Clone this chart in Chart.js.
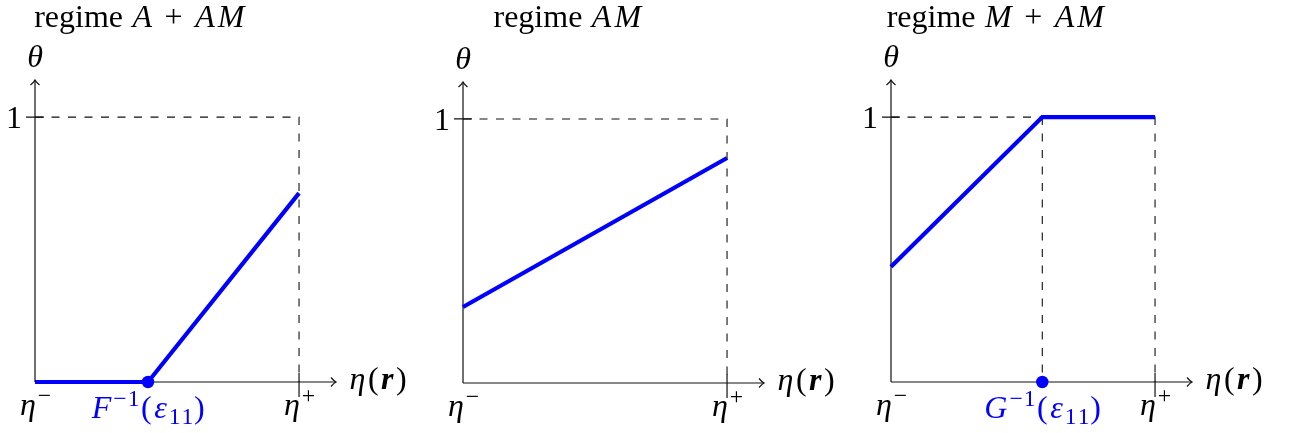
<!DOCTYPE html>
<html>
<head>
<meta charset="utf-8">
<script src="https://cdn.jsdelivr.net/npm/chart.js@4.4.0/dist/chart.umd.min.js"></script>
<style>
html, body { margin: 0; padding: 0; background: #fff; }
#wrap { position: relative; width: 1290px; height: 433px; overflow: hidden; }
.panel { position: absolute; top: 0; width: 430px; height: 433px; }
</style>
</head>
<body>
<div id="wrap">
  <div class="panel" style="left:0px"><canvas id="c0"></canvas></div>
  <div class="panel" style="left:430px"><canvas id="c1"></canvas></div>
  <div class="panel" style="left:860px"><canvas id="c2"></canvas></div>
</div>
<script>
// テキスト ($...$ は数式、^{} 上付き、_{} 下付き、\b{} 太字)
const titles = ['regime $A + AM$', 'regime $AM$', 'regime $M + AM$'];
const yAxisLabel = '\u03b8';
const xAxisLabel = '\u03b7(\\b{r})';
const yTickLabel = '1';
const xMinLabel = '\u03b7^{\u2212}';
const xMaxLabel = '\u03b7^{+}';
const breakLabels = ['F^{\u22121}(\u03b5_{11})', null, 'G^{\u22121}(\u03b5_{11})'];

// 各レジームの折れ線 (η, θ)
const etaA = [0, 0.428, 1];
const thetaA = [0, 0, 0.713];
const etaAM = [0, 1];
const thetaAM = [0.288, 0.852];
const etaM = [0, 0.573, 1];
const thetaM = [0.435, 1, 1];
const breakPoints = [0.428, null, 0.573];

// 軸の範囲 (矢印の先端まで)
const axisMax = 1.14;

const BLUE = '#0000ff';
const FONT = '"Liberation Serif", "Times New Roman", serif';
const SIZE = 32;

const panels = [
    { eta: etaA, theta: thetaA, pad: { left: 35, top: 80, right: 94, bottom: 51 } },
    { eta: etaAM, theta: thetaAM, pad: { left: 33, top: 82, right: 96, bottom: 50 } },
    { eta: etaM, theta: thetaM, pad: { left: 31, top: 80, right: 98, bottom: 51 } }
];

// 簡易な数式テキストの分解
function parseText(str, math) {
    const runs = [];
    const stack = [];
    let level = 0, bold = false;
    for (let i = 0; i < str.length; i++) {
        const c = str[i];
        if (c === '$') { math = !math; continue; }
        if ((c === '^' || c === '_') && str[i + 1] === '{') {
            stack.push({ level, bold });
            level = c === '^' ? 1 : -1;
            i++;
            continue;
        }
        if (c === '\\' && str[i + 1] === 'b' && str[i + 2] === '{') {
            stack.push({ level, bold });
            bold = true;
            i += 2;
            continue;
        }
        if (c === '}') {
            const s = stack.pop();
            level = s.level; bold = s.bold;
            continue;
        }
        const italic = math && /[A-Za-z\u0370-\u03ff]/.test(c);
        const last = runs[runs.length - 1];
        if (last && last.italic === italic && last.bold === bold && last.level === level && last.math === math) {
            last.text += c;
        } else {
            runs.push({ text: c, italic, bold, level, math });
        }
    }
    return runs;
}

function fontFor(r, size) {
    const s = r.level ? size * 0.74 : size;
    return (r.italic ? 'italic ' : '') + (r.bold ? 'bold ' : '') + s + 'px ' + FONT;
}

// 数式部分は字間を少し広げる (Computer Modern に近づける)
function spacingFor(r) {
    if (!r.math) return 0;
    if (r.level) return 1;
    return r.italic ? 3 : 2;
}

function drawText(ctx, str, x, y, align, color, math) {
    const runs = parseText(str, math);
    let total = 0;
    runs.forEach(r => {
        ctx.font = fontFor(r, SIZE);
        r.sp = spacingFor(r);
        r.w = ctx.measureText(r.text).width + r.sp * r.text.length;
        total += r.w;
    });
    let cx = align === 'center' ? x - total / 2 : align === 'right' ? x - total : x;
    ctx.fillStyle = color;
    ctx.textAlign = 'left';
    ctx.textBaseline = 'alphabetic';
    runs.forEach(r => {
        ctx.font = fontFor(r, SIZE);
        const dy = r.level === 1 ? -0.38 * SIZE : r.level === -1 ? 0.2 * SIZE : 0;
        let px = cx + r.sp / 2;
        for (const ch of r.text) {
            ctx.fillText(ch, px, y + dy);
            px += ctx.measureText(ch).width + r.sp;
        }
        cx += r.w;
    });
}

function arrowHead(ctx, tx, ty, dir) {
    ctx.beginPath();
    if (dir === 'right') {
        ctx.moveTo(tx - 5, ty - 4.5);
        ctx.quadraticCurveTo(tx - 2, ty - 1, tx, ty);
        ctx.quadraticCurveTo(tx - 2, ty + 1, tx - 5, ty + 4.5);
    } else {
        ctx.moveTo(tx - 4.5, ty + 5);
        ctx.quadraticCurveTo(tx - 1, ty + 2, tx, ty);
        ctx.quadraticCurveTo(tx + 1, ty + 2, tx + 4.5, ty + 5);
    }
    ctx.stroke();
}

const sketchPlugin = {
    id: 'sketch',
    beforeDatasetsDraw(chart, args, opts) {
        const { ctx } = chart;
        const x = chart.scales.x, y = chart.scales.y;
        const ox = x.getPixelForValue(0), oy = y.getPixelForValue(0);
        const xe = x.getPixelForValue(axisMax), ye = y.getPixelForValue(axisMax);
        const x1 = x.getPixelForValue(1), y1 = y.getPixelForValue(1);
        ctx.save();
        ctx.strokeStyle = '#111';
        ctx.lineWidth = 1.2;
        ctx.beginPath();
        ctx.moveTo(ox, oy); ctx.lineTo(xe, oy);
        ctx.moveTo(ox, oy); ctx.lineTo(ox, ye);
        ctx.moveTo(ox - 9, y1); ctx.lineTo(ox + 9, y1);
        ctx.moveTo(x1, oy - 9); ctx.lineTo(x1, oy + 15);
        ctx.stroke();
        arrowHead(ctx, xe, oy, 'right');
        arrowHead(ctx, ox, ye, 'up');
        ctx.restore();
    },
    afterDraw(chart, args, opts) {
        const { ctx } = chart;
        const i = opts.index;
        const x = chart.scales.x, y = chart.scales.y;
        const ox = x.getPixelForValue(0), oy = y.getPixelForValue(0);
        const xe = x.getPixelForValue(axisMax), ye = y.getPixelForValue(axisMax);
        const x1 = x.getPixelForValue(1), y1 = y.getPixelForValue(1);
        ctx.save();
        drawText(ctx, titles[i], (ox + x1) / 2 - 27, 27, 'center', '#000', false);
        drawText(ctx, yAxisLabel, ox, ye - 13, 'center', '#000', true);
        drawText(ctx, yTickLabel, ox - 12, y1 + 11, 'right', '#000', true);
        drawText(ctx, xAxisLabel, xe + 12, oy + 7, 'left', '#000', true);
        drawText(ctx, xMinLabel, ox, oy + 33, 'center', '#000', true);
        drawText(ctx, xMaxLabel, x1, oy + 33, 'center', '#000', true);
        if (breakLabels[i]) {
            drawText(ctx, breakLabels[i], x.getPixelForValue(breakPoints[i]), oy + 36, 'center', BLUE, true);
        }
        ctx.restore();
    }
};

panels.forEach((p, i) => {
    const curve = p.eta.map((v, k) => ({ x: v, y: p.theta[k] }));
    const bp = breakPoints[i];
    // θ=1 に達する折れ点からは破線を下ろす
    const k = bp === null ? -1 : p.eta.indexOf(bp);
    const drop = k >= 0 && p.theta[k] === 1 ? [{ x: bp, y: 1 }, { x: bp, y: 0 }] : [];

    new Chart(document.getElementById('c' + i), {
        type: 'line',
        data: {
            datasets: [
                {
                    data: bp === null ? [] : [{ x: bp, y: 0 }],
                    showLine: false,
                    pointRadius: 6.2,
                    pointBackgroundColor: BLUE,
                    pointBorderWidth: 0,
                    clip: false
                },
                {
                    data: curve,
                    borderColor: BLUE,
                    borderWidth: 4.2,
                    pointRadius: 0,
                    tension: 0,
                    clip: false
                },
                {
                    data: [{ x: 0, y: 1 }, { x: 1, y: 1 }, { x: 1, y: 0 }],
                    borderColor: '#111',
                    borderWidth: 1.1,
                    borderDash: [8, 8.5],
                    pointRadius: 0,
                    clip: false
                },
                {
                    data: drop,
                    borderColor: '#111',
                    borderWidth: 1.1,
                    borderDash: [8, 8.5],
                    pointRadius: 0,
                    clip: false
                }
            ]
        },
        options: {
            responsive: true,
            maintainAspectRatio: false,
            animation: false,
            events: [],
            layout: { padding: p.pad, autoPadding: false },
            scales: {
                x: { type: 'linear', min: 0, max: axisMax, display: false },
                y: { type: 'linear', min: 0, max: axisMax, display: false }
            },
            plugins: {
                legend: { display: false },
                tooltip: { enabled: false },
                sketch: { index: i }
            }
        },
        plugins: [sketchPlugin]
    });
});
</script>
</body>
</html>
